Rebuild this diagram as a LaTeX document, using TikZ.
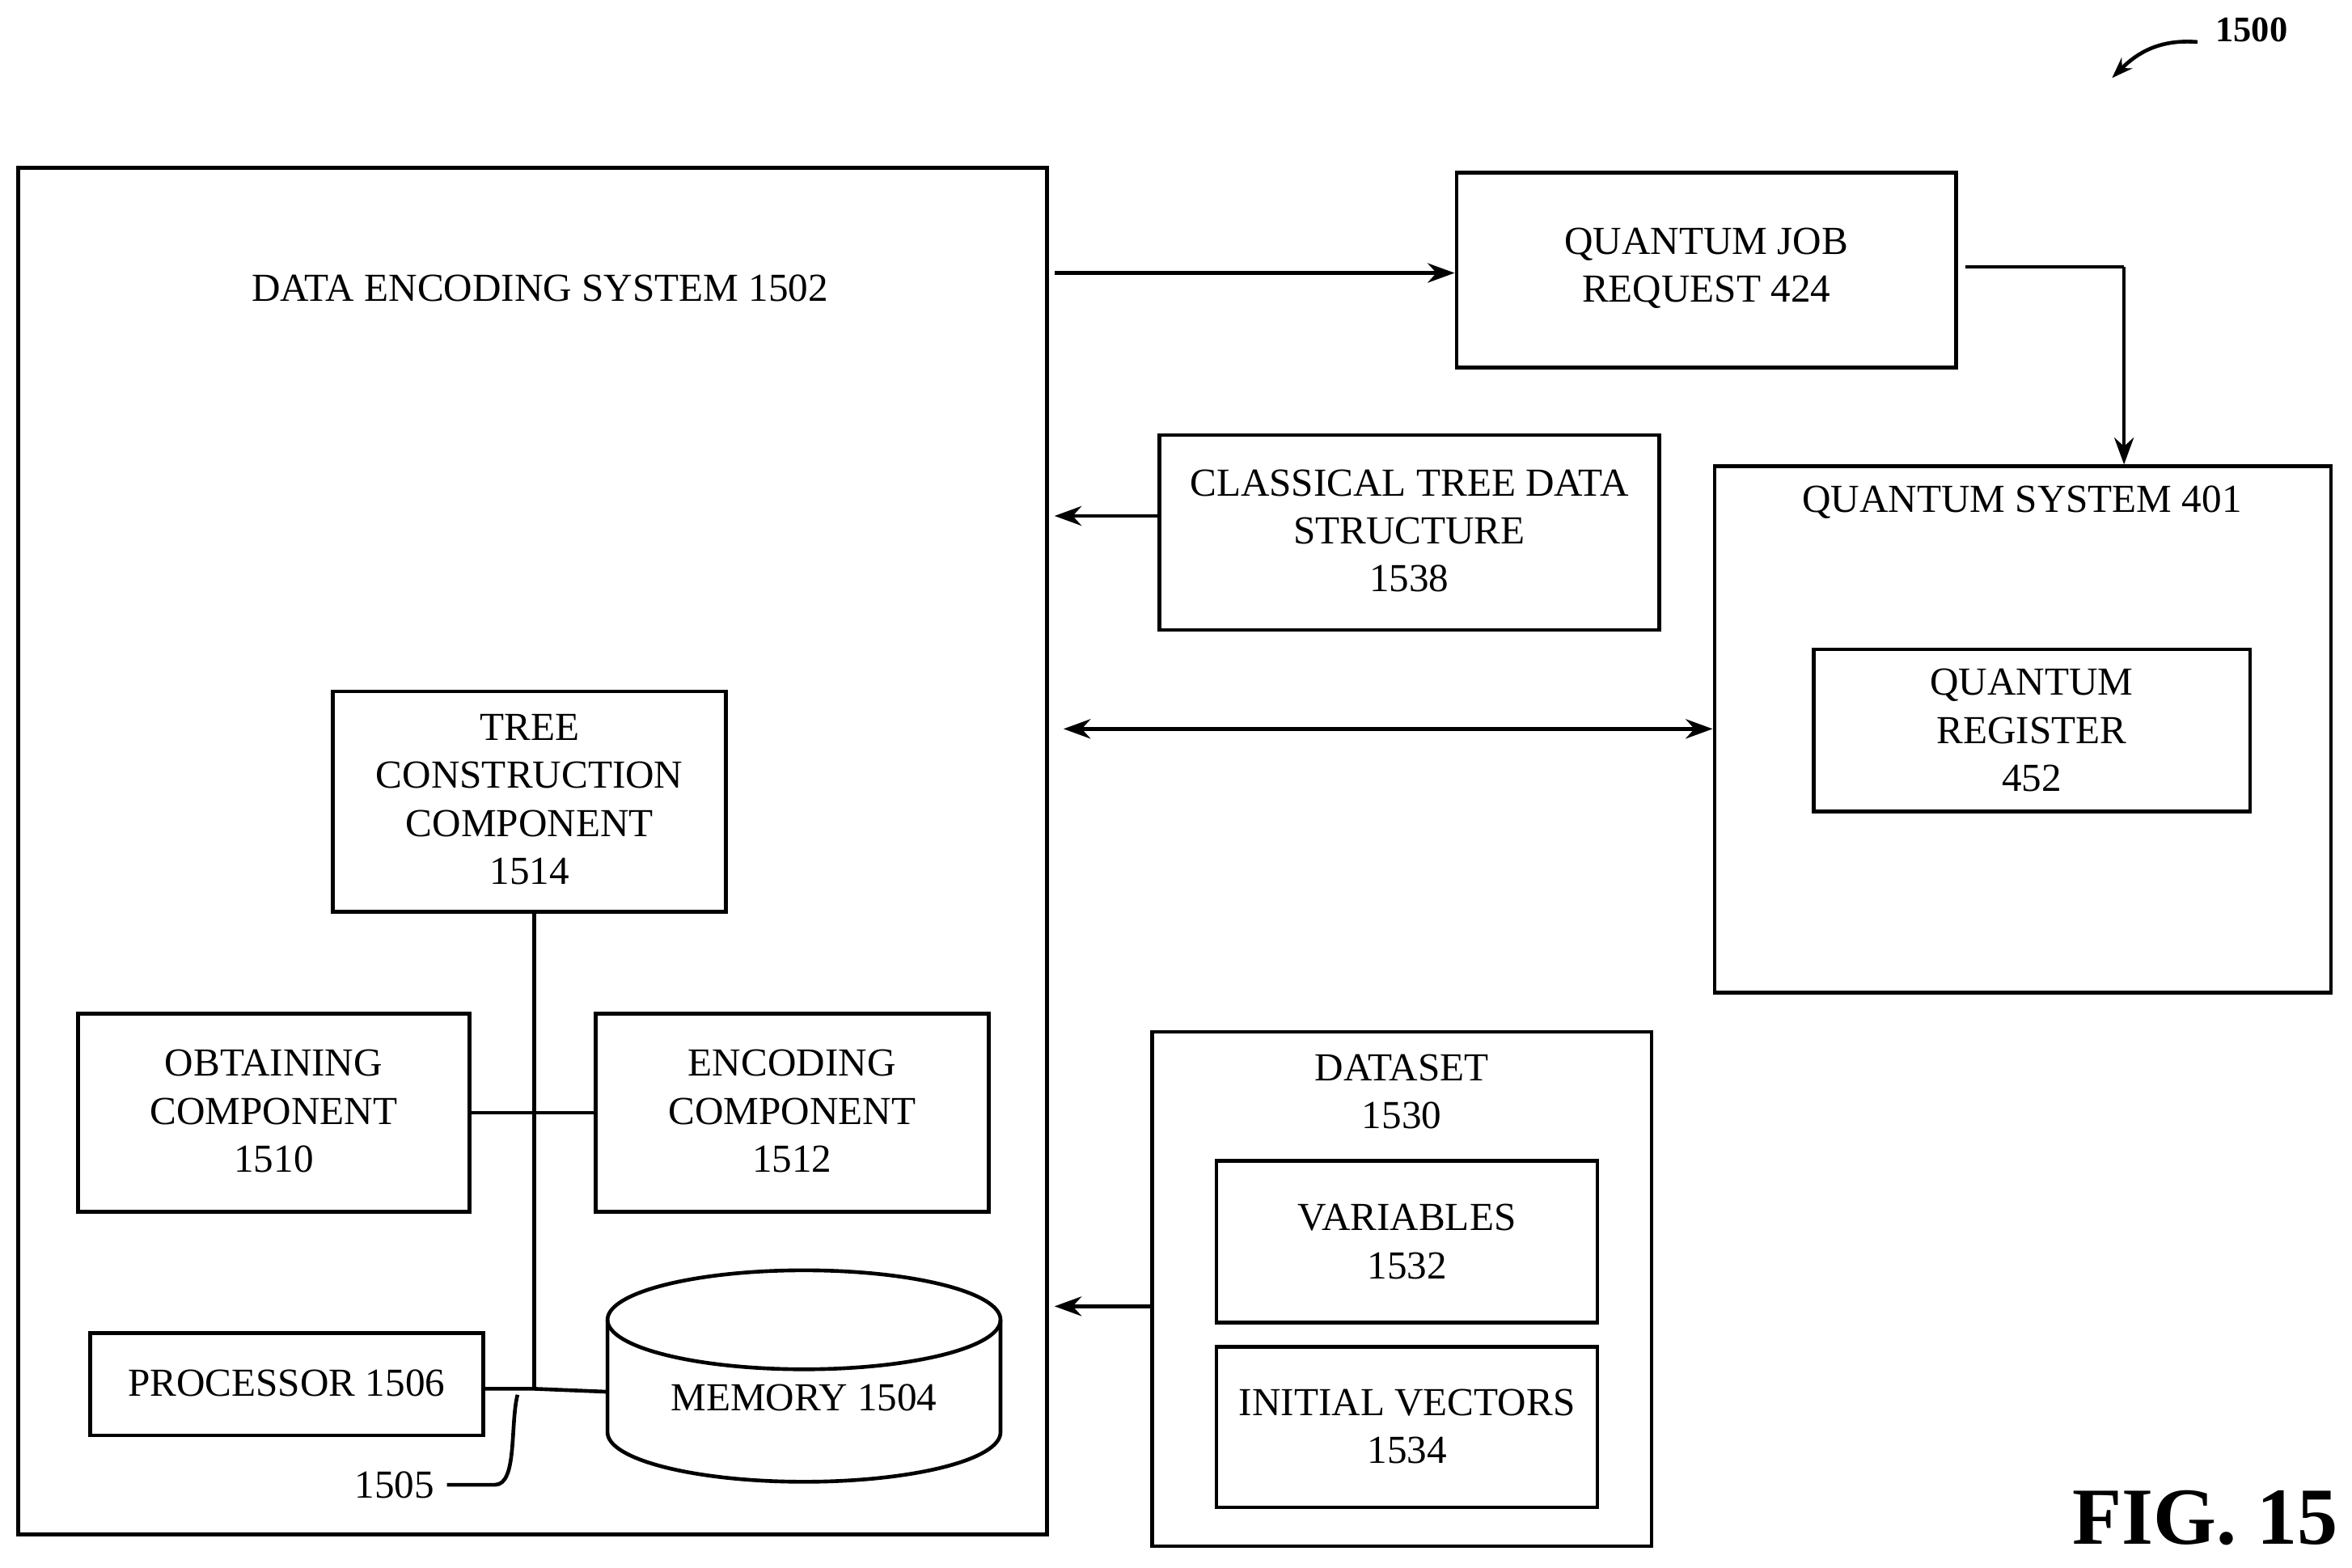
\documentclass[tikz,border=0pt]{standalone}
\usepackage{fontspec}
\setmainfont{Liberation Serif}
\usetikzlibrary{arrows.meta,shapes.geometric}
\begin{document}
\begin{tikzpicture}[x=1pt,y=-1pt,
  box/.style={draw,line width=2.5pt,rectangle,inner sep=0pt},
  txt/.style={align=center,font=\fontsize{26.5}{32}\selectfont,inner sep=0pt},
  arr/.style={line width=2.5pt,-{Stealth[length=18pt,width=13pt]}},
  ln/.style={line width=2.5pt}]
\useasboundingbox (0,0) rectangle (1568,1045);
% outer
\node[box,minimum width=686pt,minimum height=911pt] (des) at (355,567.5) {};
\node[txt] (destitle) at (360,192) {DATA ENCODING SYSTEM 1502};
% quantum job request
\node[box,minimum width=333pt,minimum height=130pt] (qjr) at (1137.5,180) {};
\node[txt] at (1137.5,179) {QUANTUM JOB\\REQUEST 424};
% quantum system
\node[box,minimum width=411pt,minimum height=351pt] (qs) at (1348.5,486.5) {};
\node[txt] at (1348,335) {QUANTUM SYSTEM 401};
\node[box,minimum width=291pt,minimum height=108pt] (qr) at (1354.5,487) {};
\node[txt] at (1354.5,487) {QUANTUM\\REGISTER\\452};
% classical tree
\node[box,minimum width=333pt,minimum height=130pt] (ct) at (939.5,355) {};
\node[txt] at (939.5,354) {CLASSICAL TREE DATA\\STRUCTURE\\1538};
% tree construction
\node[box,minimum width=262pt,minimum height=147pt] (tc) at (353,534.5) {};
\node[txt] at (353,533) {TREE\\CONSTRUCTION\\COMPONENT\\1514};
% obtaining / encoding
\node[box,minimum width=261pt,minimum height=132pt] (ob) at (182.5,742) {};
\node[txt] at (182.5,741) {OBTAINING\\COMPONENT\\1510};
\node[box,minimum width=262pt,minimum height=132pt] (en) at (528,742) {};
\node[txt] at (528,741) {ENCODING\\COMPONENT\\1512};
% processor
\node[box,minimum width=262pt,minimum height=68pt] (pr) at (191,923) {};
\node[txt] at (191,922) {PROCESSOR 1506};
% memory (cylinder)
\node[minimum width=262pt,minimum height=142pt,inner sep=0pt] (mem) at (536,917) {};
\draw[ln] (536,880) ellipse [x radius=131, y radius=33];
\draw[ln] (405,880) -- (405,955) arc[start angle=180,end angle=360,x radius=131,y radius=-33] -- (667,880);
\node[txt] at (536,932) {MEMORY 1504};
% bus
\coordinate (bt) at (356,608);
\coordinate (bb) at (356,926);
\draw[ln] (bt) -- (bb);
\draw[ln] (ob.east) -- (en.west);
\draw[ln] (pr.east |- bb) -- (bb) -- (405,928);
\node[txt] (l1505) at (263,990) {1505};
\coordinate (lc) at (345,930);
\draw[ln] (298,990) -- (330,990) .. controls (345,990) and (340,950) .. (lc);
% dataset
\node[box,minimum width=333pt,minimum height=343pt] (ds) at (934.5,859.5) {};
\node[txt] at (934.5,728) {DATASET\\1530};
\node[box,minimum width=254pt,minimum height=108pt] (va) at (938,828) {};
\node[txt] at (938,828) {VARIABLES\\1532};
\node[box,minimum width=254pt,minimum height=107pt] (iv) at (938,951.5) {};
\node[txt] at (938,951) {INITIAL VECTORS\\1534};
% arrows
\coordinate (a1) at (703,182);
\draw[arr] (a1) -- (qjr.west |- a1);
\draw[ln] (1310,178) -- (1416,178);
\draw[arr] (1416,178) -- (qs.north -| 1416,0);
\coordinate (a2) at (703,344);
\draw[arr] (ct.west |- a2) -- (a2);
\coordinate (a3) at (709,486);
\draw[line width=2.5pt,{Stealth[length=18pt,width=13pt]}-{Stealth[length=18pt,width=13pt]}] (a3) -- (qs.west |- a3);
\coordinate (a4) at (703,871);
\draw[arr] (ds.west |- a4) -- (a4);
% labels
\node[font=\fontsize{54}{56}\selectfont\bfseries,inner sep=0pt] (fig) at (1470,1012) {FIG. 15};
\node[font=\fontsize{24}{26}\selectfont\bfseries,inner sep=0pt] (n1500) at (1501,20) {1500};
\coordinate (ae) at (1408,52);
\draw[line width=2.5pt,-{Stealth[length=14pt,width=10pt]}] (1465,28) .. controls (1440,26) and (1425,35) .. (ae);
\end{tikzpicture}
\end{document}
